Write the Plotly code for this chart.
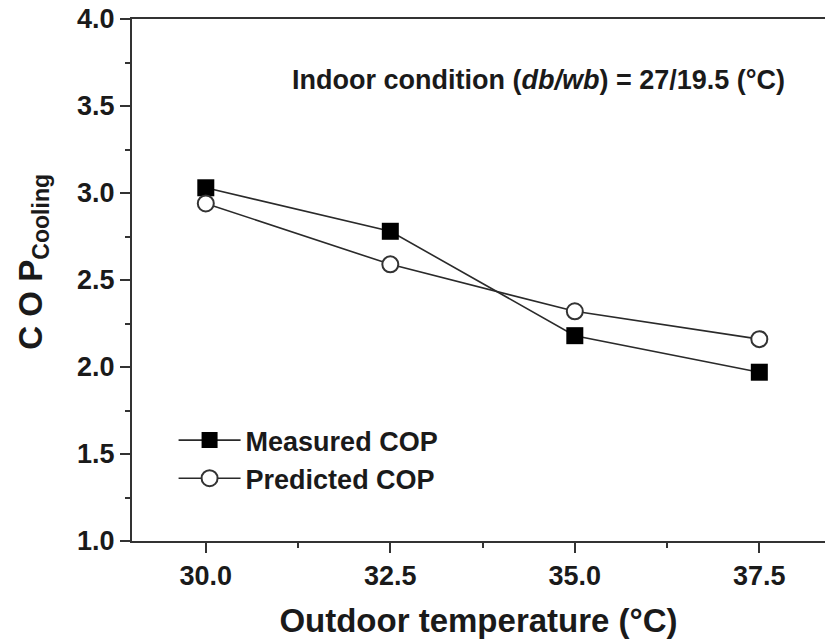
import plotly.graph_objects as go

# Data
outdoor_temp = [30.0, 32.5, 35.0, 37.5]
measured_cop = [3.03, 2.78, 2.18, 1.97]
predicted_cop = [2.94, 2.59, 2.32, 2.16]
x_tick_vals = [30.0, 32.5, 35.0, 37.5]
y_tick_vals = [1.0, 1.5, 2.0, 2.5, 3.0, 3.5, 4.0]

FONT = "Liberation Sans, Arial, sans-serif"
INK = "#1a1a1a"

fig = go.Figure()
fig.add_trace(go.Scatter(
    x=outdoor_temp, y=measured_cop, mode="lines+markers", name="Measured COP",
    line=dict(color="#2a2a2a", width=1.6),
    marker=dict(symbol="square", size=17, color="#000000", line=dict(width=0)),
))
fig.add_trace(go.Scatter(
    x=outdoor_temp, y=predicted_cop, mode="lines+markers", name="Predicted COP",
    line=dict(color="#2a2a2a", width=1.6),
    marker=dict(symbol="circle", size=16, color="#ffffff", line=dict(width=2, color="#333333")),
))

fig.update_layout(
    width=825, height=644,
    margin=dict(l=132, r=0, t=19, b=103),
    paper_bgcolor="white", plot_bgcolor="white",
    font=dict(family=FONT, size=27, color=INK, weight="bold"),
    showlegend=True,
    legend=dict(
        x=0.06, y=0.156, xanchor="left", yanchor="middle",
        bgcolor="rgba(0,0,0,0)", borderwidth=0,
        font=dict(family=FONT, size=27, color=INK, weight="bold"),
        itemwidth=62, tracegroupgap=0,
    ),
    xaxis=dict(
        range=[29, 38.39], tickvals=x_tick_vals, ticktext=[f"{v:.1f}" for v in x_tick_vals],
        ticks="outside", ticklen=10, tickwidth=2, tickcolor="#333",
        minor=dict(ticks="outside", ticklen=5, tickwidth=2, tickcolor="#333", tick0=30, dtick=1.25),
        showline=True, linewidth=2, linecolor="#333", mirror=True,
        showgrid=False, zeroline=False,
        tickfont=dict(family=FONT, size=27, color=INK, weight="bold"),
        title=dict(text="Outdoor temperature (°C)", standoff=18,
                   font=dict(family=FONT, size=33, color=INK, weight="bold")),
    ),
    yaxis=dict(
        range=[1, 4], tickvals=y_tick_vals, ticktext=[f"{v:.1f}" for v in y_tick_vals],
        ticks="outside", ticklen=10, tickwidth=2, tickcolor="#333",
        minor=dict(ticks="outside", ticklen=5, tickwidth=2, tickcolor="#333", tick0=1, dtick=0.25),
        showline=True, linewidth=2, linecolor="#333", mirror=False,
        showgrid=False, zeroline=False,
        tickfont=dict(family=FONT, size=27, color=INK, weight="bold"),
    ),
    annotations=[
        dict(text="Indoor condition (<i>db/wb</i>) = 27/19.5 (°C)",
             xref="paper", yref="paper", x=0.9447, y=0.8836,
             xanchor="right", yanchor="middle", showarrow=False,
             font=dict(family=FONT, size=27, color=INK, weight="bold")),
        dict(text="C O P<sub>Cooling</sub>", textangle=-90,
             xref="paper", yref="paper", x=-0.143, y=0.535,
             xanchor="center", yanchor="middle", showarrow=False,
             font=dict(family=FONT, size=33, color=INK, weight="bold")),
    ],
)

fig.write_html("out.html")
